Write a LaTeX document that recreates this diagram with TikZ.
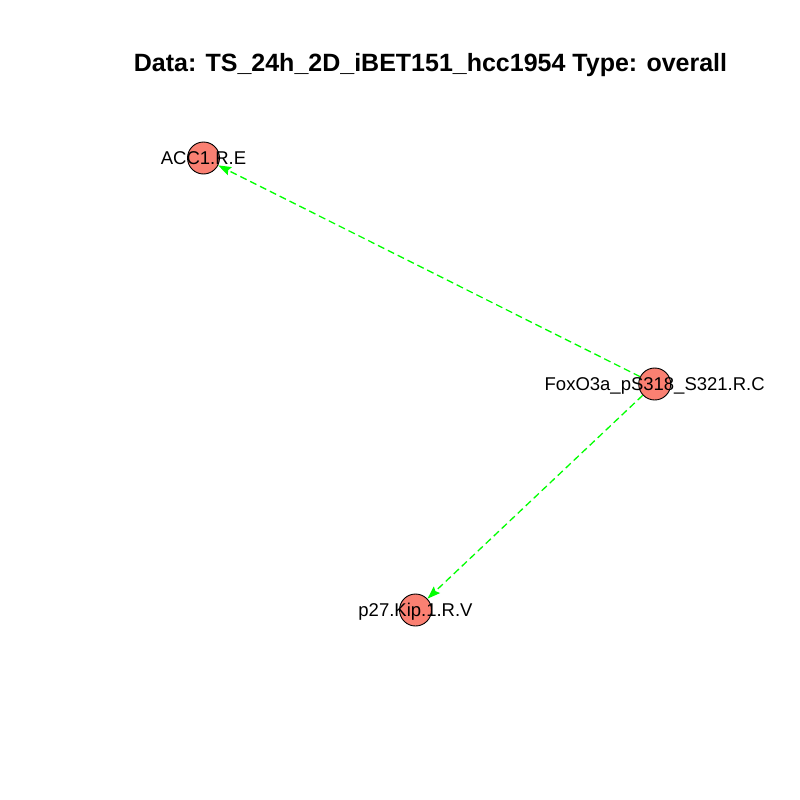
\documentclass[tikz,border=0pt]{standalone}
\usepackage{fontspec}
\setmainfont{Liberation Sans}
\usetikzlibrary{arrows.meta}
\definecolor{vsalmon}{HTML}{FA8072}
\definecolor{egreen}{HTML}{00FF00}

\begin{document}
\begin{tikzpicture}[x=1pt, y=-1pt,
  vertex/.style={circle, draw=black, line width=0.9pt, fill=vsalmon, minimum size=32pt, inner sep=0pt},
  vlabel/.style={anchor=base, inner sep=0pt, font=\fontsize{18.5}{18.5}\selectfont},
  edge/.style={egreen, line width=1.3pt, dash pattern=on 7pt off 4pt, -{Stealth[length=13pt, width=9pt, inset=2pt]}}
  ]
\useasboundingbox[fill=white] (0,0) rectangle (800,800);

\node[anchor=base, inner sep=0pt, font=\fontsize{25}{25}\selectfont\bfseries] (title) at (430.5,71) {Data: TS\_24h\_2D\_iBET151\_hcc1954 Type: overall};

% vertices
\node[vertex] (acc) at (203.5,158) {};
\node[vertex] (fox) at (654.7,384) {};
\node[vertex] (p27) at (415.5,610) {};

% edges
\draw[edge] (fox) -- (acc);
\draw[edge] (fox) -- (p27);

% labels
\node[vlabel] (acclab) at ([yshift=-6.6pt]acc.center) {ACC1.R.E};
\node[vlabel] (foxlab) at ([yshift=-6.6pt]fox.center) {FoxO3a\_pS318\_S321.R.C};
\node[vlabel] (p27lab) at ([yshift=-6.6pt]p27.center) {p27.Kip.1.R.V};
\end{tikzpicture}
\end{document}
